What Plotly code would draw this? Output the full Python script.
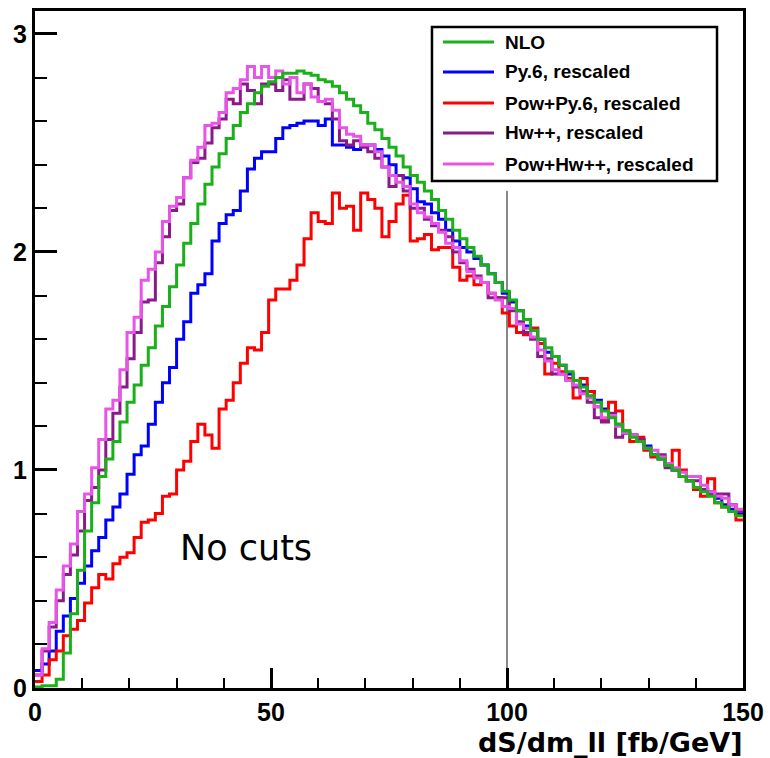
import numpy as np
import plotly.graph_objects as go

# Binned distributions of dS/dm_ll, 1.5 GeV bins from 0 to 150 GeV
X_MIN, X_MAX = 0.0, 150.0

nlo = [0.005, 0.01, 0.01, 0.04, 0.16, 0.34, 0.54, 0.72, 0.85, 0.97,
       1.05, 1.13, 1.22, 1.31, 1.39, 1.48, 1.56, 1.66, 1.75, 1.84,
       1.94, 2.04, 2.13, 2.22, 2.31, 2.39, 2.45, 2.52, 2.58, 2.64,
       2.68, 2.73, 2.76, 2.78, 2.80, 2.82, 2.82, 2.83, 2.82, 2.81,
       2.79, 2.78, 2.76, 2.73, 2.70, 2.67, 2.64, 2.59, 2.56, 2.52,
       2.48, 2.44, 2.39, 2.35, 2.32, 2.28, 2.24, 2.19, 2.15, 2.10,
       2.06, 2.02, 1.98, 1.94, 1.90, 1.86, 1.82, 1.78, 1.73, 1.69,
       1.64, 1.60, 1.56, 1.52, 1.48, 1.45, 1.41, 1.38, 1.34, 1.31,
       1.27, 1.24, 1.21, 1.18, 1.15, 1.13, 1.10, 1.07, 1.05, 1.02,
       1.00, 0.97, 0.95, 0.92, 0.90, 0.88, 0.85, 0.83, 0.81, 0.79]

py6 = [0.08, 0.11, 0.17, 0.26, 0.33, 0.41, 0.48, 0.56, 0.63, 0.69,
       0.77, 0.83, 0.89, 0.98, 1.07, 1.11, 1.21, 1.31, 1.40, 1.47,
       1.60, 1.68, 1.81, 1.85, 1.90, 2.05, 2.13, 2.17, 2.19, 2.28,
       2.38, 2.43, 2.46, 2.46, 2.52, 2.57, 2.58, 2.59, 2.60, 2.60,
       2.58, 2.61, 2.49, 2.49, 2.48, 2.47, 2.49, 2.49, 2.47, 2.44,
       2.40, 2.35, 2.34, 2.29, 2.23, 2.22, 2.18, 2.15, 2.10, 2.05,
       2.02, 2.00, 1.97, 1.94, 1.90, 1.86, 1.81, 1.77, 1.73, 1.66,
       1.65, 1.60, 1.54, 1.52, 1.48, 1.44, 1.41, 1.39, 1.36, 1.32,
       1.28, 1.25, 1.21, 1.17, 1.16, 1.14, 1.11, 1.07, 1.05, 1.02,
       1.00, 0.97, 0.95, 0.92, 0.91, 0.90, 0.87, 0.84, 0.82, 0.80]

pow_py6 = [0.03, 0.06, 0.13, 0.17, 0.24, 0.27, 0.31, 0.39, 0.46, 0.52,
           0.50, 0.57, 0.60, 0.62, 0.69, 0.76, 0.77, 0.80, 0.88, 0.89,
           1.00, 1.04, 1.13, 1.21, 1.16, 1.10, 1.28, 1.32, 1.40, 1.49,
           1.56, 1.55, 1.63, 1.78, 1.83, 1.83, 1.87, 1.94, 2.06, 2.18,
           2.14, 2.13, 2.27, 2.20, 2.21, 2.10, 2.27, 2.24, 2.20, 2.07,
           2.14, 2.22, 2.26, 2.05, 2.06, 2.08, 2.01, 2.02, 2.02, 1.93,
           1.87, 1.89, 1.85, 1.86, 1.81, 1.79, 1.72, 1.66, 1.63, 1.62,
           1.65, 1.58, 1.44, 1.49, 1.45, 1.42, 1.33, 1.42, 1.36, 1.29,
           1.23, 1.31, 1.27, 1.18, 1.13, 1.15, 1.09, 1.06, 1.06, 1.03,
           1.09, 1.00, 0.95, 0.91, 0.88, 0.96, 0.85, 0.83, 0.84, 0.77]

hwpp = [0.06, 0.17, 0.28, 0.40, 0.52, 0.61, 0.72, 0.86, 0.92, 1.00,
        1.14, 1.26, 1.38, 1.51, 1.63, 1.77, 1.78, 1.95, 2.07, 2.19,
        2.22, 2.34, 2.41, 2.43, 2.50, 2.57, 2.61, 2.70, 2.68, 2.77,
        2.74, 2.68, 2.77, 2.77, 2.74, 2.79, 2.70, 2.70, 2.77, 2.75,
        2.69, 2.68, 2.61, 2.51, 2.49, 2.51, 2.48, 2.46, 2.43, 2.39,
        2.30, 2.35, 2.28, 2.20, 2.20, 2.15, 2.12, 2.10, 2.07, 2.00,
        1.95, 1.92, 1.89, 1.86, 1.79, 1.79, 1.79, 1.73, 1.68, 1.63,
        1.60, 1.52, 1.51, 1.44, 1.44, 1.41, 1.38, 1.36, 1.31, 1.24,
        1.22, 1.26, 1.15, 1.17, 1.16, 1.14, 1.10, 1.07, 1.07, 1.01,
        1.00, 0.97, 0.95, 0.95, 0.91, 0.89, 0.89, 0.89, 0.84, 0.81]

pow_hwpp = [0.06, 0.18, 0.30, 0.45, 0.56, 0.66, 0.81, 0.89, 1.01, 1.14,
            1.28, 1.32, 1.46, 1.63, 1.70, 1.87, 1.92, 2.00, 2.14, 2.21,
            2.25, 2.34, 2.42, 2.48, 2.58, 2.59, 2.64, 2.73, 2.75, 2.79,
            2.85, 2.80, 2.85, 2.80, 2.83, 2.77, 2.80, 2.73, 2.77, 2.71,
            2.69, 2.70, 2.65, 2.57, 2.54, 2.53, 2.49, 2.49, 2.46, 2.39,
            2.35, 2.32, 2.30, 2.22, 2.18, 2.16, 2.13, 2.09, 2.04, 2.02,
            1.96, 1.91, 1.88, 1.86, 1.81, 1.78, 1.75, 1.74, 1.67, 1.65,
            1.61, 1.55, 1.50, 1.46, 1.44, 1.41, 1.39, 1.35, 1.33, 1.29,
            1.24, 1.25, 1.20, 1.17, 1.16, 1.13, 1.10, 1.09, 1.06, 1.03,
            1.01, 0.99, 0.97, 0.97, 0.93, 0.90, 0.88, 0.87, 0.84, 0.82]

names = ["NLO", "Py.6, rescaled", "Pow+Py.6, rescaled",
         "Hw++, rescaled", "Pow+Hw++, rescaled"]
colors = ["#19b019", "#0000ff", "#ff0000", "#8a1a8a", "#e854e8"]
series = [nlo, py6, pow_py6, hwpp, pow_hwpp]

# drawing order: green ends up on top
draw_order = [1, 2, 3, 4, 0]

cut_line_x = 100.0
cut_line_top = 2.28
label_text = "No cuts"
x_title = "dS/dm_ll [fb/GeV]"

fig = go.Figure()
for k in draw_order:
    vals = np.asarray(series[k], dtype=float)
    edges = np.linspace(X_MIN, X_MAX, len(vals) + 1)
    xs = np.concatenate([edges[:-1], edges[-1:]])
    ys = np.concatenate([vals, vals[-1:]])
    fig.add_trace(go.Scatter(x=xs, y=ys, mode="lines", name=names[k],
                             line=dict(color=colors[k], width=3, shape="hv"),
                             showlegend=False, hoverinfo="skip"))

tick_font = dict(family="Liberation Sans, Arial, sans-serif", size=25,
                 color="black", weight="bold")

fig.update_layout(
    width=770, height=758,
    margin=dict(l=35, r=27, t=11, b=70, pad=0, autoexpand=False),
    paper_bgcolor="white", plot_bgcolor="white",
    showlegend=False,
    xaxis=dict(range=[X_MIN, X_MAX], showgrid=False, zeroline=False,
               automargin=False,
               showline=True, linecolor="black", linewidth=3, mirror=True,
               ticks="inside", ticklen=20, tickwidth=2.5, tickcolor="black",
               tick0=0, dtick=50, tickfont=tick_font,
               minor=dict(ticks="inside", ticklen=10, tickwidth=2,
                          tickcolor="black", dtick=10, showgrid=False)),
    yaxis=dict(range=[0, 3.105], showgrid=False, zeroline=False,
               automargin=False,
               showline=True, linecolor="black", linewidth=3, mirror=True,
               ticks="inside", ticklen=22, tickwidth=2.5, tickcolor="black",
               tick0=0, dtick=1, tickfont=tick_font,
               minor=dict(ticks="inside", ticklen=12, tickwidth=2,
                          tickcolor="black", dtick=0.2, showgrid=False)),
)

# thin vertical marker at m_ll = 100 GeV
fig.add_shape(type="line", xref="x", yref="y", x0=cut_line_x, x1=cut_line_x,
              y0=0, y1=cut_line_top, line=dict(color="#111111", width=1),
              layer="below")

fig.add_annotation(x=44.7, y=0.64, xref="x", yref="y", text=label_text,
                   showarrow=False, xanchor="center", yanchor="middle",
                   font=dict(family="DejaVu Sans", size=35, color="black"))

fig.add_annotation(x=1.0, y=0.0, xref="paper", yref="paper", text=x_title,
                   showarrow=False, xanchor="right", yanchor="middle",
                   yshift=-54, xshift=2,
                   font=dict(family="DejaVu Sans, sans-serif",
                             size=27, color="black", weight="bold"))

# legend box, drawn in paper coordinates
box_x0, box_x1 = 0.5607, 0.9633
box_y0, box_y1 = 0.7489, 0.9764
fig.add_shape(type="rect", xref="paper", yref="paper",
              x0=box_x0, x1=box_x1, y0=box_y0, y1=box_y1,
              line=dict(color="black", width=2.5), fillcolor="white",
              layer="above")
row_y = [0.9542, 0.9099, 0.8641, 0.8198, 0.7740]
for name, col, yy in zip(names, colors, row_y):
    fig.add_shape(type="line", xref="paper", yref="paper",
                  x0=0.5763, x1=0.6483, y0=yy, y1=yy,
                  line=dict(color=col, width=3), layer="above")
    fig.add_annotation(x=0.661, y=yy, xref="paper", yref="paper", text=name,
                       showarrow=False, xanchor="left", yanchor="middle",
                       font=dict(family="Liberation Sans, Arial, sans-serif",
                                 size=19, color="black", weight="bold"))

fig.write_html("out.html")
